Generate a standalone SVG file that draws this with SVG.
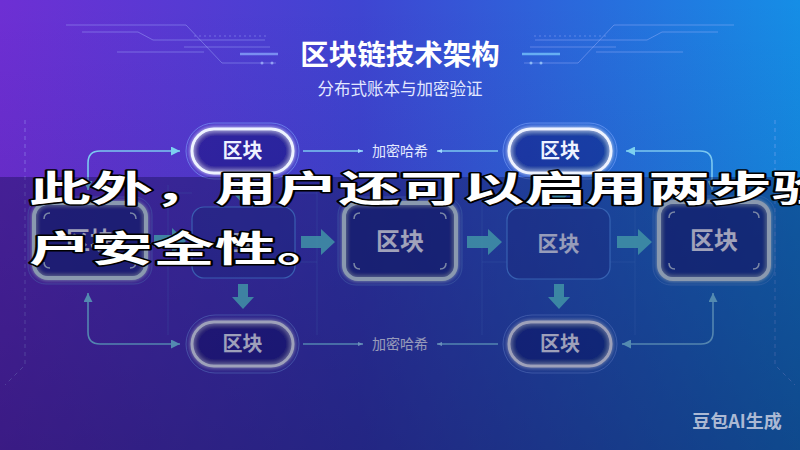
<svg xmlns="http://www.w3.org/2000/svg" width="800" height="450" viewBox="0 0 800 450">
  <defs>
    <linearGradient id="bg" x1="0" y1="0" x2="1" y2="0">
      <stop offset="0" stop-color="#6e2fd4"/>
      <stop offset="0.45" stop-color="#3f45d2"/>
      <stop offset="1" stop-color="#158ee6"/>
    </linearGradient>
    <linearGradient id="shade" x1="0" y1="0" x2="0" y2="1">
      <stop offset="0" stop-color="#0c0838" stop-opacity="0"/>
      <stop offset="0.4" stop-color="#0c0838" stop-opacity="0.08"/>
      <stop offset="1" stop-color="#0c0838" stop-opacity="0.25"/>
    </linearGradient>
    <filter id="glow" x="-30%" y="-30%" width="160%" height="160%">
      <feGaussianBlur in="SourceGraphic" stdDeviation="2.2" result="b"/>
      <feMerge><feMergeNode in="b"/><feMergeNode in="SourceGraphic"/></feMerge>
    </filter>
    <marker id="tri" viewBox="0 0 10 10" refX="10" refY="5" markerWidth="9" markerHeight="9" markerUnits="userSpaceOnUse" orient="auto-start-reverse">
      <path d="M0,0 L10,5 L0,10 Z" fill="#7cd0f0"/>
    </marker>
    <marker id="dot" viewBox="0 0 10 10" refX="10" refY="5" markerWidth="5" markerHeight="5" markerUnits="userSpaceOnUse" orient="auto">
      <path d="M0,1 L10,5 L0,9 Z" fill="#9fd8ff"/>
    </marker>
    <style>
      .cjk{font-family:"Noto Sans CJK SC","Noto Sans",sans-serif;}
      .deco{stroke:#a9b8ff;stroke-opacity:0.4;stroke-width:1;fill:none;}
      .grid{stroke:#5a8ae0;stroke-opacity:0.3;stroke-width:1;fill:none;}
      .conn{stroke:#7cc8f0;stroke-width:1.6;fill:none;}
      .lbl{font-size:14px;fill:#e3e9ff;text-anchor:middle;}
      .barrow{fill:#5fdde0;opacity:0.85;}
      .pill-ring{fill:none;stroke:#7fa8ff;stroke-opacity:0.55;stroke-width:1;}
      .pill{fill:#10105a;fill-opacity:0.22;stroke:#eef3ff;stroke-width:3;}
      .pill-t{font-size:20px;font-weight:bold;fill:#eef2ff;text-anchor:middle;}
      .hbox-ring{fill:none;stroke:#6a9fe8;stroke-opacity:0.45;stroke-width:1;}
      .hbox{fill:#1a2a86;fill-opacity:0.5;stroke:#cfe6ee;stroke-width:4;}
      .corner{fill:none;stroke:#b8cce0;stroke-width:1.5;}
      .hbox-t{font-size:24px;font-weight:bold;fill:#f2f4ff;text-anchor:middle;}
      .dbox{fill:#22359a;fill-opacity:0.4;stroke:#5aa0ff;stroke-opacity:0.8;stroke-width:1.2;}
      .dbox-t{font-size:21px;font-weight:bold;fill:#e4ecff;text-anchor:middle;}
      .cap{font-size:36px;font-weight:bold;fill:#ffffff;stroke:#000000;stroke-width:3;stroke-linejoin:round;paint-order:stroke;}
    </style>
  </defs>

  <rect x="0" y="0" width="800" height="450" fill="url(#bg)"/>
  <rect x="0" y="0" width="800" height="450" fill="url(#shade)"/>

  <g id="decor">
    <path class="deco" d="M66 25 H186 L222 63 H276"/>
    <path class="deco" d="M82 32 H138 L153 40 H265"/>
    <path class="deco" d="M194 36 H268" stroke-dasharray="2 3"/>
    <path class="deco" d="M184 47 H270"/>
    <path class="deco" d="M117 52 H204"/>
    <path d="M240 54 H278" stroke="#8fb0ff" stroke-width="2.5" stroke-opacity="0.7"/>
    <circle cx="262" cy="63" r="1.5" fill="#a9c0ff" fill-opacity="0.7"/>
    <circle cx="272" cy="63" r="1.5" fill="#a9c0ff" fill-opacity="0.7"/>
    <path class="deco" d="M734 25 H614 L578 63 H524"/>
    <path class="deco" d="M718 32 H662 L647 40 H535"/>
    <path class="deco" d="M606 36 H532" stroke-dasharray="2 3"/>
    <path class="deco" d="M616 47 H530"/>
    <path class="deco" d="M683 52 H596"/>
    <path d="M522 54 H560" stroke="#7fd0ff" stroke-width="2.5" stroke-opacity="0.7"/>
    <circle cx="531" cy="63" r="1.5" fill="#a9d8ff" fill-opacity="0.7"/>
    <circle cx="541" cy="63" r="1.5" fill="#a9d8ff" fill-opacity="0.7"/>
    <path class="deco" d="M25 120 V365 L5 385" stroke-dasharray="4 4"/>
    <path class="deco" d="M775 120 V365 L795 385" stroke-dasharray="4 4"/>
    <path class="grid" d="M168 185 V335 M317 185 V335 M482 185 V335 M635 185 V335"/>
    <path class="grid" d="M168 193 H192 M295 193 H317 M168 262 H192 M295 262 H317 M482 193 H507 M610 193 H635 M482 262 H507 M610 262 H635"/>
  </g>

  <g id="title" class="cjk">
    <text x="400" y="65" font-size="28.5" font-weight="bold" fill="#ffffff" text-anchor="middle">区块链技术架构</text>
    <text x="400" y="95" font-size="16.5" fill="#e3e8ff" text-anchor="middle">分布式账本与加密验证</text>
  </g>

  <g id="connectors" class="cjk">
    <path class="conn" d="M180 151 H100 Q88 151 88 163 V190" marker-start="url(#tri)" marker-end="url(#tri)"/>
    <path class="conn" d="M180 344 H100 Q88 344 88 332 V293" marker-start="url(#tri)" marker-end="url(#tri)"/>
    <path class="conn" d="M626 151 H700 Q712 151 712 163 V190" marker-start="url(#tri)" marker-end="url(#tri)" stroke="#5fd0e8"/>
    <path class="conn" d="M622 344 H701 Q713 344 713 332 V293" marker-start="url(#tri)" marker-end="url(#tri)" stroke="#5fd0e8"/>
    <path class="conn" d="M303 151 H363" marker-end="url(#dot)"/>
    <path class="conn" d="M498 151 H437" marker-end="url(#dot)"/>
    <path class="conn" d="M303 344 H363" marker-end="url(#dot)"/>
    <path class="conn" d="M498 344 H437" marker-end="url(#dot)"/>
    <text class="lbl" x="400" y="156">加密哈希</text>
    <text class="lbl" x="400" y="349">加密哈希</text>
    <path class="barrow" d="M154 235 H172 V228 L186 241 L172 254 V247 H154 Z"/>
    <path class="barrow" d="M301 236 H321 V229 L335 242 L321 255 V248 H301 Z"/>
    <path class="barrow" d="M467 236 H488 V229 L502 242 L488 255 V248 H467 Z"/>
    <path class="barrow" d="M617 236 H638 V229 L652 242 L638 255 V248 H617 Z"/>
    <path class="barrow" d="M238 284 H248 V297 H254 L243 309 L232 297 H238 Z"/>
    <path class="barrow" d="M554 284 H564 V297 H570 L559 309 L548 297 H554 Z"/>
    <path class="barrow" d="M238 180 H248 V192 H254 L243 204 L232 192 H238 Z"/>
    <path class="barrow" d="M554 180 H564 V192 H570 L559 204 L548 192 H554 Z"/>
  </g>

  <g id="node-top-left" class="cjk">
    <rect class="pill-ring" x="186" y="123" width="113" height="56" rx="28"/>
    <rect class="pill" x="192" y="129" width="101" height="44" rx="22" filter="url(#glow)"/>
    <text class="pill-t" x="242.5" y="158">区块</text>
  </g>
  <g id="node-top-right" class="cjk">
    <rect class="pill-ring" x="503" y="123" width="114" height="56" rx="28"/>
    <rect class="pill" x="509" y="129" width="102" height="44" rx="22" filter="url(#glow)"/>
    <text class="pill-t" x="560" y="158">区块</text>
  </g>
  <g id="node-bottom-left" class="cjk">
    <rect class="pill-ring" x="186" y="315" width="113" height="58" rx="29"/>
    <rect class="pill" x="192" y="322" width="101" height="44" rx="22" filter="url(#glow)"/>
    <text class="pill-t" x="242.5" y="351">区块</text>
  </g>
  <g id="node-bottom-right" class="cjk">
    <rect class="pill-ring" x="503" y="315" width="114" height="58" rx="29"/>
    <rect class="pill" x="509" y="322" width="102" height="44" rx="22" filter="url(#glow)"/>
    <text class="pill-t" x="560" y="351">区块</text>
  </g>

  <g id="node-mid-1" class="cjk">
    <rect class="hbox-ring" x="28" y="197" width="124" height="87" rx="18"/>
    <rect class="hbox" x="34" y="203" width="112" height="75" rx="14" filter="url(#glow)"/>
    <path class="corner" d="M44 219 Q44 213 50 213 M130 213 Q136 213 136 219 M136 262 Q136 268 130 268 M50 268 Q44 268 44 262"/>
    <text class="hbox-t" x="90" y="249">区块</text>
  </g>
  <g id="node-mid-2" class="cjk">
    <rect class="dbox" x="192" y="207" width="103" height="71" rx="12"/>
    <text class="dbox-t" x="243.5" y="250">区块</text>
  </g>
  <g id="node-mid-3" class="cjk">
    <rect class="hbox-ring" x="338" y="197" width="124" height="88" rx="18"/>
    <rect class="hbox" x="344" y="203" width="112" height="76" rx="14" filter="url(#glow)"/>
    <path class="corner" d="M354 219 Q354 213 360 213 M440 213 Q446 213 446 219 M446 263 Q446 269 440 269 M360 269 Q354 269 354 263"/>
    <text class="hbox-t" x="400" y="249.5">区块</text>
  </g>
  <g id="node-mid-4" class="cjk">
    <rect class="dbox" x="507" y="208" width="103" height="71" rx="12"/>
    <text class="dbox-t" x="558.5" y="251">区块</text>
  </g>
  <g id="node-mid-5" class="cjk">
    <rect class="hbox-ring" x="653" y="196" width="122" height="89" rx="18"/>
    <rect class="hbox" x="659" y="202" width="110" height="77" rx="14" filter="url(#glow)"/>
    <path class="corner" d="M669 218 Q669 212 675 212 M753 212 Q759 212 759 218 M759 263 Q759 269 753 269 M675 269 Q669 269 669 263"/>
    <text class="hbox-t" x="714" y="249">区块</text>
  </g>

  <rect id="caption-band" x="0" y="177" width="800" height="273" fill="#0a0838" fill-opacity="0.35"/>

  <g id="caption" class="cjk">
    <text class="cap" transform="translate(29,202) scale(1.72,1)">此外，用户还可以启用两步验</text>
    <text class="cap" transform="translate(29,262) scale(1.72,1)">户安全性。</text>
  </g>

  <g id="watermark" class="cjk">
    <text x="737" y="428" font-size="18" font-weight="bold" fill="#c2cade" fill-opacity="0.9" text-anchor="middle">豆包AI生成</text>
  </g>
</svg>
